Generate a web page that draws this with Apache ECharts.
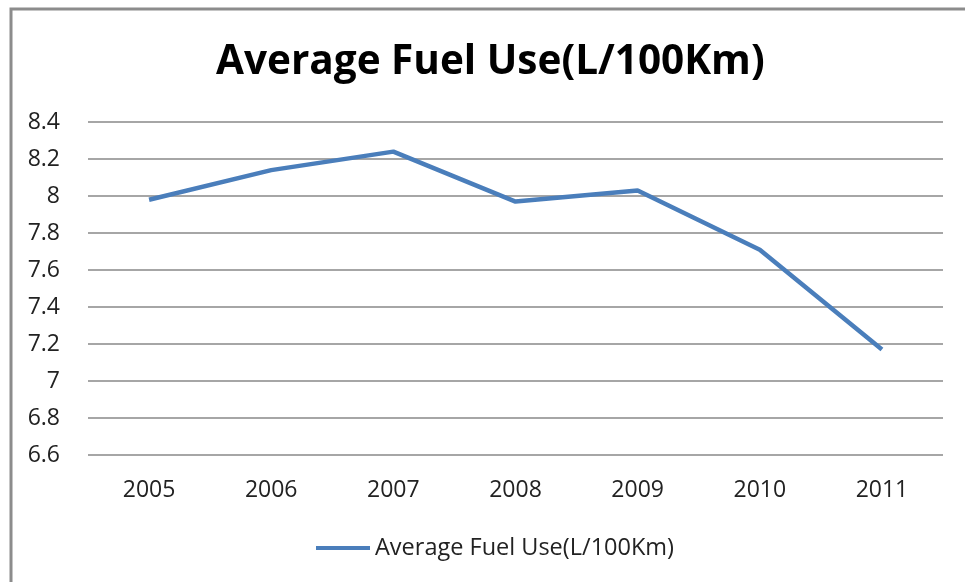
<!DOCTYPE html>
<html>
<head>
<meta charset="utf-8">
<script src="https://cdn.jsdelivr.net/npm/echarts@6/dist/echarts.min.js"></script>
<style>
  html, body { margin: 0; padding: 0; background: #fff; }
  #chart { width: 965px; height: 582px; }
</style>
</head>
<body>
<div id="chart"></div>
<script>
var years = ['2005', '2006', '2007', '2008', '2009', '2010', '2011'];
var fuelUse = [7.98, 8.14, 8.24, 7.97, 8.03, 7.71, 7.17];
var seriesName = 'Average Fuel Use(L/100Km)';

(function () {
    var myChart = echarts.init(document.getElementById('chart'));
    var option = {
        backgroundColor: '#fff',
        // 外框
        graphic: [{
            type: 'rect',
            shape: { x: 11, y: 9, width: 1000, height: 700 },
            style: { fill: 'none', stroke: '#8c8c8c', lineWidth: 3 },
            silent: true
        }],
        title: {
            text: 'Average Fuel Use(L/100Km)',
            left: 216,
            top: 42,
            padding: 0,
            textStyle: {
                fontFamily: 'Open Sans',
                fontWeight: 'bold',
                fontSize: 40.5,
                color: '#000'
            }
        },
        legend: {
            bottom: 22,
            left: 316,
            padding: 0,
            icon: 'rect',
            itemWidth: 54,
            itemHeight: 4,
            itemGap: 4,
            textStyle: {
                fontFamily: 'Open Sans',
                fontSize: 23.5,
                color: '#222'
            },
            data: [seriesName]
        },
        grid: {
            left: 88,
            right: 22,
            top: 122,
            bottom: 127
        },
        xAxis: {
            type: 'category',
            data: years,
            boundaryGap: true,
            axisTick: { show: false },
            axisLine: { show: false },
            axisLabel: {
                fontFamily: 'Open Sans',
                fontSize: 23,
                color: '#222',
                margin: 24
            }
        },
        yAxis: {
            type: 'value',
            min: 6.6,
            max: 8.4,
            interval: 0.2,
            axisLine: { show: false },
            axisTick: { show: false },
            axisLabel: {
                fontFamily: 'Open Sans',
                fontSize: 23,
                color: '#222',
                margin: 28,
                formatter: function (v) { return String(Math.round(v * 10) / 10); }
            },
            splitLine: {
                lineStyle: { color: '#a6a6a6', width: 2 }
            }
        },
        series: [{
            name: seriesName,
            type: 'line',
            data: fuelUse,
            symbol: 'none',
            lineStyle: { color: '#4a7ebb', width: 4.5 },
            itemStyle: { color: '#4a7ebb' }
        }]
    };
    myChart.setOption(option);
})();
</script>
</body>
</html>
